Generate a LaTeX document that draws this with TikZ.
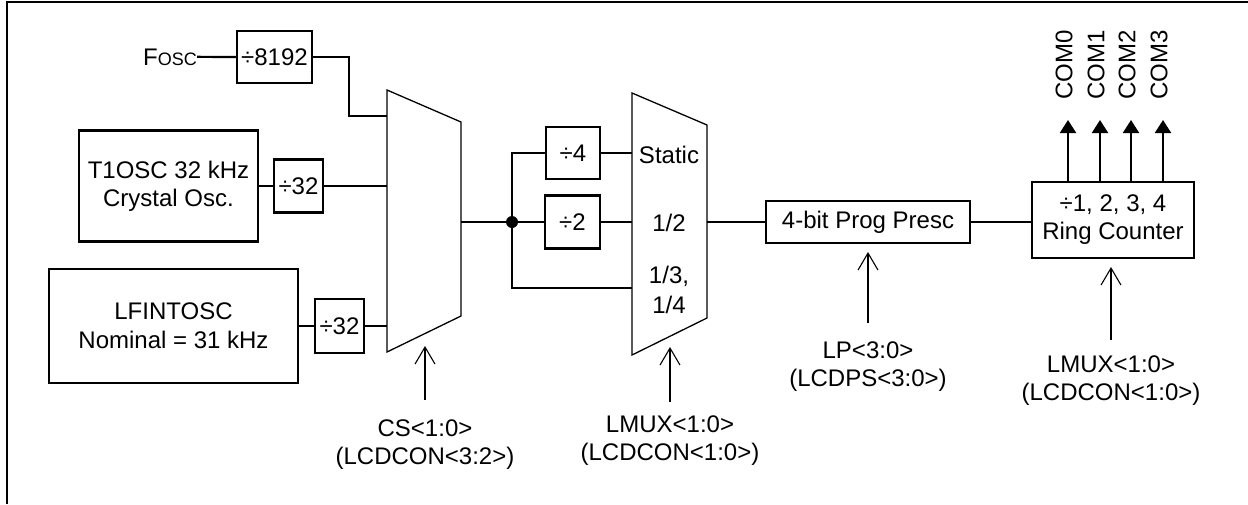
\documentclass[tikz,border=0pt]{standalone}
\usepackage{fontspec}
\setmainfont{Liberation Sans}
\usetikzlibrary{arrows.meta}
\begin{document}
\begin{tikzpicture}[x=1pt,y=-1pt,
 font=\fontsize{24}{28}\selectfont,
 wire/.style={line width=2.2pt},
 blk/.style={draw, line width=2.2pt, inner sep=0pt, align=center},
 muxs/.style={draw, line width=1.3pt, line join=miter},
 ctl/.style={line width=2.2pt, -{Straight Barb[length=17pt,width=20pt,line width=1.1pt]}},
 outa/.style={line width=2.2pt, -{Triangle[length=13pt,width=16pt]}},
 lbl/.style={align=center, inner sep=0pt},
]
\useasboundingbox (0,0) rectangle (1248,504);
\draw[line width=2.6pt] (7,504) -- (7,2) -- (1248,2);

% sources
\node[anchor=base east, inner sep=0pt] (fosc) at (197,65) {F\fontsize{18}{20}\selectfont OSC};
\node[blk, minimum width=75pt, minimum height=52pt] (d8192) at (274.5,57) {÷8192};
\node[blk, minimum width=179pt, minimum height=111pt] (t1) at (168.5,186) {T1OSC 32 kHz\\Crystal Osc.};
\node[blk, minimum width=49pt, minimum height=53pt] (d32a) at (298.5,186) {÷32};
\node[blk, minimum width=249pt, minimum height=114pt] (lf) at (173.5,326) {\raisebox{-3pt}{LFINTOSC}\\[4pt]Nominal = 31 kHz};
\node[blk, minimum width=49pt, minimum height=54pt] (d32b) at (339.5,326) {÷32};

% mux 1
\draw[muxs] (387,90) -- (461,122) -- (461,316) -- (387,352) -- cycle;
\coordinate (m1a) at (387,116);
\coordinate (m1o) at (461,222);

\draw[wire] (fosc.east) -- (d8192.west);
\draw[wire] (d8192.east) -- ++(36,0) |- (m1a);
\draw[wire] (t1.east) -- (d32a.west);
\draw[wire] (d32a.east) -- (d32a.east -| m1a);
\draw[wire] (lf.east) -- (d32b.west);
\draw[wire] (d32b.east) -- (d32b.east -| m1a);

% dividers
\node[circle, fill, inner sep=0pt, minimum size=12pt] (dot) at (512,222) {};
\node[blk, minimum width=54pt, minimum height=52pt] (d4) at (573,153) {÷4};
\node[blk, minimum width=55pt, minimum height=53pt] (d2) at (572.5,222) {÷2};

% mux 2
\draw[muxs] (632,93) -- (707,125) -- (707,318) -- (632,355) -- cycle;
\coordinate (m2a) at (632,153);
\coordinate (m2c) at (632,288);
\coordinate (m2o) at (707,222);
\node (st) at (669,155) {Static};
\node (hf) at (669,223) {1/2};
\node[lbl, font=\fontsize{24}{30}\selectfont] (tq) at (669,290) {1/3,\\1/4};

\draw[wire] (m1o) -- (dot.center) -- (d2.west);
\draw[wire] (dot.center) |- (d4.west);
\draw[wire] (dot.center) |- (m2c);
\draw[wire] (d4.east) -- (d4.east -| m2a);
\draw[wire] (d2.east) -- (d2.east -| m2a);

% prescaler and ring counter
\node[blk, minimum width=204pt, minimum height=42pt] (presc) at (868,222) {4-bit Prog Presc};
\node[blk, minimum width=162pt, minimum height=76pt] (ring) at (1113,220) {\raisebox{-2pt}{÷1, 2, 3, 4}\\[2pt]Ring Counter};
\draw[wire] (m2o) -- (presc.west);
\draw[wire] (presc.east) -- (presc.east -| ring.west);

% COM outputs
\node[rotate=90, anchor=west, inner sep=0pt] (c0) at (1064,100) {COM0};
\node[rotate=90, anchor=west, inner sep=0pt] (c1) at (1096,100) {COM1};
\node[rotate=90, anchor=west, inner sep=0pt] (c2) at (1127,100) {COM2};
\node[rotate=90, anchor=west, inner sep=0pt] (c3) at (1159,100) {COM3};
\coordinate (t0) at (1068,120);
\coordinate (t1c) at (1100,120);
\coordinate (t2) at (1131,120);
\coordinate (t3) at (1163,120);
\draw[outa] (ring.north -| t0) -- (t0);
\draw[outa] (ring.north -| t1c) -- (t1c);
\draw[outa] (ring.north -| t2) -- (t2);
\draw[outa] (ring.north -| t3) -- (t3);

% control inputs
\node[lbl, anchor=north] (cs) at (425,420) {CS<1:0>\\(LCDCON<3:2>)};
\coordinate (csb) at (425,400);
\coordinate (cst) at (425,346);
\draw[ctl] (csb) -- (cst);

\node[lbl, anchor=north] (lm2) at (670,416) {LMUX<1:0>\\(LCDCON<1:0>)};
\coordinate (lm2b) at (670,402);
\coordinate (lm2t) at (670,347);
\draw[ctl] (lm2b) -- (lm2t);

\node[lbl, anchor=north] (lp) at (868,342) {LP<3:0>\\(LCDPS<3:0>)};
\coordinate (lpb) at (868,323);
\draw[ctl] (lpb) -- (presc.south |- 0,252);

\node[lbl, anchor=north] (lmr) at (1111,356) {LMUX<1:0>\\(LCDCON<1:0>)};
\coordinate (lmrb) at (1111,340);
\coordinate (lmrt) at (1111,267);
\draw[ctl] (lmrb) -- (lmrt);
\end{tikzpicture}
\end{document}
